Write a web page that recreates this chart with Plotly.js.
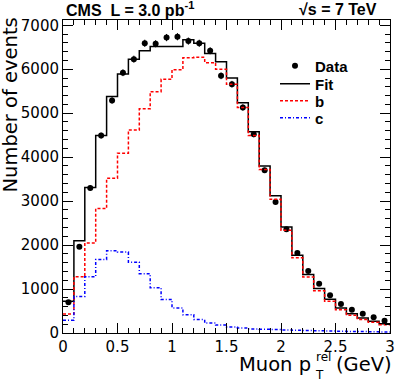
<!DOCTYPE html>
<html>
<head>
<meta charset="utf-8">
<script src="https://cdn.plot.ly/plotly-3.0.1.min.js"></script>
<style>
  html, body { margin: 0; padding: 0; background: white; }
  #chart { width: 398px; height: 382px; }
</style>
</head>
<body>
<div id="chart"></div>
<script>
// bin centres of the muon pT-rel histogram (GeV), bin width 0.1
var binCentres = [0.05, 0.15, 0.25, 0.35, 0.45, 0.55, 0.65, 0.75, 0.85, 0.95,
                  1.05, 1.15, 1.25, 1.35, 1.45, 1.55, 1.65, 1.75, 1.85, 1.95,
                  2.05, 2.15, 2.25, 2.35, 2.45, 2.55, 2.65, 2.75, 2.85, 2.95];
var binHalf = 0.05;

var dataCounts = [700, 1960, 3300, 4490, 5290, 5920, 6230, 6590, 6580, 6720,
                  6740, 6640, 6590, 6420, 5850, 5660, 5130, 4520, 3700, 2980,
                  2360, 1820, 1410, 1120, 860, 660, 530, 440, 360, 280];

var fitCounts = [720, 2100, 3310, 4490, 5380, 5890, 6230, 6420, 6520, 6520,
                 6520, 6670, 6590, 6360, 6170, 5800, 5240, 4580, 3800, 3120,
                 2410, 1770, 1330, 1010, 770, 570, 440, 340, 270, 210];

var bCounts = [430, 1280, 2050, 2830, 3520, 4090, 4620, 5100, 5490, 5770,
               5990, 6260, 6270, 6150, 6000, 5660, 5130, 4490, 3720, 3040,
               2340, 1710, 1275, 960, 725, 530, 404, 308, 242, 185];

var cCounts = [290, 830, 1280, 1670, 1870, 1840, 1610, 1350, 1030, 760,
               570, 415, 305, 228, 180, 137, 114, 91, 84, 77,
               70, 62, 55, 50, 45, 40, 36, 32, 28, 25];

// histogram outline: left edges plus the last right edge, last value repeated
function stepX() {
    var xs = binCentres.map(function(c) { return c - binHalf; });
    xs.push(binCentres[binCentres.length - 1] + binHalf);
    return xs;
}
function stepY(vals) {
    var ys = vals.slice();
    ys.push(vals[vals.length - 1]);
    return ys;
}

var regular = 'DejaVu Sans, sans-serif';
var bold = 'Liberation Sans, Arial, sans-serif';

var traces = [
    {
        x: binCentres, y: dataCounts, name: '<b>Data</b>', legend: 'legend',
        type: 'scatter', mode: 'markers',
        marker: {color: 'black', size: 6, symbol: 'circle'},
        error_y: {type: 'sqrt', color: 'black', thickness: 1, width: 0}
    },
    {
        x: stepX(), y: stepY(fitCounts), name: '<b>Fit</b>', legend: 'legend2',
        type: 'scatter', mode: 'lines',
        line: {color: 'black', width: 1.5, shape: 'hv'}
    },
    {
        x: stepX(), y: stepY(bCounts), name: '<b>b</b>', legend: 'legend3',
        type: 'scatter', mode: 'lines',
        line: {color: '#ff0000', width: 1.5, shape: 'hv', dash: '3px,2px'}
    },
    {
        x: stepX(), y: stepY(cCounts), name: '<b>c</b>', legend: 'legend4',
        type: 'scatter', mode: 'lines',
        line: {color: '#0000ff', width: 1.5, shape: 'hv', dash: '3px,2px,1px,2px'}
    }
];

// pixel -> paper helpers for the text placed like the original
var L = 63, R = 8, T = 20, B = 49, W = 398, H = 382;
function px(x) { return (x - L) / (W - L - R); }
function py(y) { return (H - B - y) / (H - B - T); }

function legendAt(yPix) {
    return {
        x: px(275), y: py(yPix), xanchor: 'left', yanchor: 'middle',
        bgcolor: 'rgba(0,0,0,0)',
        font: {family: bold, size: 15, color: 'black'},
        itemwidth: 30
    };
}

var layout = {
    width: W, height: H,
    margin: {l: L, r: R, t: T, b: B},
    paper_bgcolor: 'white',
    plot_bgcolor: 'white',
    showlegend: true,
    legend: legendAt(66),
    legend2: legendAt(84),
    legend3: legendAt(101),
    legend4: legendAt(118),
    xaxis: {
        range: [0, 3],
        dtick: 0.5,
        ticks: 'inside', ticklen: 10, tickcolor: 'black',
        minor: {dtick: 0.1, ticks: 'inside', ticklen: 5, tickcolor: 'black'},
        showline: true, linecolor: 'black', linewidth: 1, mirror: 'ticks',
        showgrid: false, zeroline: false,
        tickfont: {family: regular, size: 15, color: 'black'}
    },
    yaxis: {
        range: [0, 7120],
        dtick: 1000,
        ticks: 'inside', ticklen: 10, tickcolor: 'black',
        minor: {dtick: 200, ticks: 'inside', ticklen: 5, tickcolor: 'black'},
        showline: true, linecolor: 'black', linewidth: 1, mirror: 'ticks',
        showgrid: false, zeroline: false,
        tickfont: {family: regular, size: 15, color: 'black'}
    },
    annotations: [
        {
            text: '<b>CMS&nbsp; L = 3.0 pb<sup>-1</sup></b>',
            xref: 'paper', yref: 'paper', x: px(64), y: py(9),
            xanchor: 'left', yanchor: 'middle', showarrow: false,
            font: {family: bold, size: 16, color: 'black'}
        },
        {
            text: '<b>√s = 7 TeV</b>',
            xref: 'paper', yref: 'paper', x: px(379), y: py(9),
            xanchor: 'right', yanchor: 'middle', showarrow: false,
            font: {family: bold, size: 16, color: 'black'}
        },
        {
            text: 'Number of events', textangle: -90,
            xref: 'paper', yref: 'paper', x: px(10), y: py(16),
            xanchor: 'center', yanchor: 'top', showarrow: false,
            font: {family: regular, size: 19.5, color: 'black'}
        },
        {
            text: 'Muon p',
            xref: 'paper', yref: 'paper', x: px(313), y: py(364),
            xanchor: 'right', yanchor: 'middle', showarrow: false,
            font: {family: regular, size: 19.5, color: 'black'}
        },
        {
            text: 'T',
            xref: 'paper', yref: 'paper', x: px(313), y: py(375),
            xanchor: 'left', yanchor: 'middle', showarrow: false,
            font: {family: regular, size: 12, color: 'black'}
        },
        {
            text: 'rel',
            xref: 'paper', yref: 'paper', x: px(314), y: py(357),
            xanchor: 'left', yanchor: 'middle', showarrow: false,
            font: {family: regular, size: 12, color: 'black'}
        },
        {
            text: '(GeV)',
            xref: 'paper', yref: 'paper', x: px(334), y: py(364),
            xanchor: 'left', yanchor: 'middle', showarrow: false,
            font: {family: regular, size: 19.5, color: 'black'}
        }
    ]
};

Plotly.newPlot('chart', traces, layout, {displayModeBar: false, staticPlot: true});
</script>
</body>
</html>
